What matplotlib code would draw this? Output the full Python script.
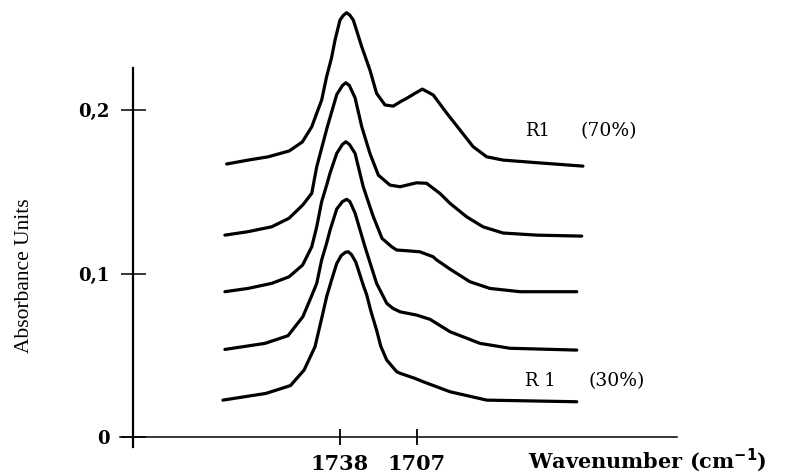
import matplotlib.pyplot as plt

# spectra, top (R1 70%) to bottom (R1 30%)
wn_1 = [1783.8, 1775.1, 1767.0, 1758.5, 1753.2, 1749.4, 1747.4, 1745.4, 1743.4, 1741.4,
        1740.0, 1738.0, 1736.6, 1735.3, 1734.0, 1732.6, 1729.2, 1725.9, 1723.2, 1719.8,
        1716.5, 1713.1, 1711.0, 1707.7, 1704.7, 1700.3, 1694.9, 1689.5, 1684.2, 1678.7,
        1672.1, 1658.5, 1639.8]
abs_1 = [0.1670, 0.1694, 0.1714, 0.1750, 0.1805, 0.1898, 0.1980, 0.2061, 0.2204, 0.2320,
         0.2428, 0.2550, 0.2580, 0.2595, 0.2580, 0.2550, 0.2387, 0.2245, 0.2102, 0.2031,
         0.2024, 0.2055, 0.2072, 0.2102, 0.2128, 0.2092, 0.1982, 0.1878, 0.1776, 0.1714,
         0.1694, 0.1678, 0.1657]

wn_2 = [1784.5, 1775.2, 1765.6, 1758.6, 1753.0, 1749.4, 1747.4, 1743.1, 1739.3, 1737.0,
        1735.6, 1734.2, 1731.9, 1729.2, 1725.9, 1722.5, 1717.8, 1713.7, 1707.0, 1703.0,
        1697.6, 1693.5, 1686.8, 1680.2, 1672.1, 1658.5, 1640.3]
abs_2 = [0.1235, 0.1256, 0.1286, 0.1338, 0.1420, 0.1491, 0.1653, 0.1898, 0.2095, 0.2150,
         0.2167, 0.2150, 0.2075, 0.1898, 0.1735, 0.1602, 0.1541, 0.1531, 0.1555, 0.1552,
         0.1490, 0.1429, 0.1347, 0.1286, 0.1248, 0.1235, 0.1229]

wn_3 = [1784.5, 1775.2, 1765.6, 1758.6, 1753.1, 1749.4, 1747.4, 1745.4, 1743.4, 1742.0,
        1739.3, 1737.0, 1735.6, 1734.2, 1731.9, 1728.6, 1725.9, 1724.5, 1721.0, 1717.1,
        1715.1, 1710.5, 1705.7, 1700.4, 1698.9, 1693.5, 1685.5, 1677.4, 1665.2, 1642.3]
abs_3 = [0.0889, 0.0909, 0.0940, 0.0980, 0.1052, 0.1164, 0.1286, 0.1440, 0.1540, 0.1615,
         0.1735, 0.1790, 0.1806, 0.1790, 0.1735, 0.1531, 0.1409, 0.1347, 0.1215, 0.1164,
         0.1144, 0.1139, 0.1133, 0.1103, 0.1083, 0.1027, 0.0950, 0.0909, 0.0889, 0.0889]

wn_4 = [1784.5, 1768.3, 1759.0, 1753.0, 1749.0, 1747.4, 1745.4, 1743.4, 1742.0, 1739.3,
        1737.0, 1735.3, 1734.0, 1731.9, 1727.9, 1723.2, 1719.1, 1716.6, 1713.7, 1707.0,
        1701.6, 1693.5, 1681.4, 1669.3, 1642.3]
abs_4 = [0.0536, 0.0573, 0.0620, 0.0736, 0.0880, 0.0940, 0.1083, 0.1185, 0.1266, 0.1395,
         0.1440, 0.1454, 0.1440, 0.1370, 0.1164, 0.0940, 0.0818, 0.0787, 0.0766, 0.0746,
         0.0720, 0.0644, 0.0573, 0.0543, 0.0532]

wn_5 = [1785.3, 1767.9, 1758.0, 1752.5, 1748.1, 1744.9, 1743.4, 1741.4, 1739.3, 1737.5,
        1735.8, 1734.6, 1733.3, 1731.6, 1728.5, 1727.2, 1725.5, 1723.2, 1721.5, 1719.1,
        1715.1, 1713.7, 1707.7, 1704.3, 1693.5, 1678.7, 1642.3]
abs_5 = [0.0226, 0.0267, 0.0315, 0.0410, 0.0552, 0.0758, 0.0858, 0.0960, 0.1062, 0.1110,
         0.1130, 0.1133, 0.1115, 0.1070, 0.0925, 0.0870, 0.0770, 0.0654, 0.0555, 0.0471,
         0.0400, 0.0390, 0.0359, 0.0338, 0.0277, 0.0226, 0.0216]

spectra = [(wn_1, abs_1), (wn_2, abs_2), (wn_3, abs_3), (wn_4, abs_4), (wn_5, abs_5)]

y_ticks = [0, 0.1, 0.2]
y_tick_labels = ["0", "0,1", "0,2"]
x_ticks = [1738, 1707]
x_tick_labels = ["1738", "1707"]

fig = plt.figure(figsize=(7.95, 4.75), dpi=100)
ax = fig.add_axes([0, 0, 1, 1])
ax.patch.set_alpha(0)

for wn, ab in spectra:
    ax.plot(wn, ab, color="black", lw=2.3, solid_joinstyle="round", solid_capstyle="round")

ax.set_xlim(1875.4, 1554.1)
ax.set_ylim(-0.0232, 0.2673)

# axes lines
for s in ["top", "right"]:
    ax.spines[s].set_visible(False)
ax.spines["left"].set_position(("data", 1821.7))
ax.spines["left"].set_bounds(-0.006, 0.226)
ax.spines["left"].set_linewidth(1.6)
ax.spines["bottom"].set_position(("data", 0))
ax.spines["bottom"].set_bounds(1826.9, 1601.8)
ax.spines["bottom"].set_linewidth(1.1)

ax.set_yticks(y_ticks)
ax.set_yticklabels(y_tick_labels, fontfamily="DejaVu Serif", fontweight="bold", fontsize=13)
ax.tick_params(axis="y", direction="inout", length=18, width=1.1, pad=8)
ax.set_xticks(x_ticks)
ax.set_xticklabels(x_tick_labels, fontfamily="DejaVu Serif", fontweight="bold", fontsize=15)
ax.tick_params(axis="x", direction="inout", length=11, width=1.3, pad=7)

ax.text(1662.0, -0.0188, r"Wavenumber (cm$^{\mathbf{-1}}$)", fontfamily="DejaVu Serif",
        fontweight="bold", fontsize=15, ha="left", va="baseline")
ax.text(1865.7, 0.0985, "Absorbance Units", fontfamily="Liberation Serif", fontsize=15.5,
        rotation=90, ha="center", va="center")

# sample labels
ax.text(1663.2, 0.187, "R1", fontfamily="DejaVu Serif", fontsize=13, ha="left", va="center")
ax.text(1640.8, 0.187, "(70%)", fontfamily="DejaVu Serif", fontsize=13.5, ha="left", va="center")
ax.text(1663.2, 0.0343, "R 1", fontfamily="DejaVu Serif", fontsize=13, ha="left", va="center")
ax.text(1637.6, 0.0343, "(30%)", fontfamily="DejaVu Serif", fontsize=13.5, ha="left", va="center")

fig.savefig("out.png", dpi=100)
